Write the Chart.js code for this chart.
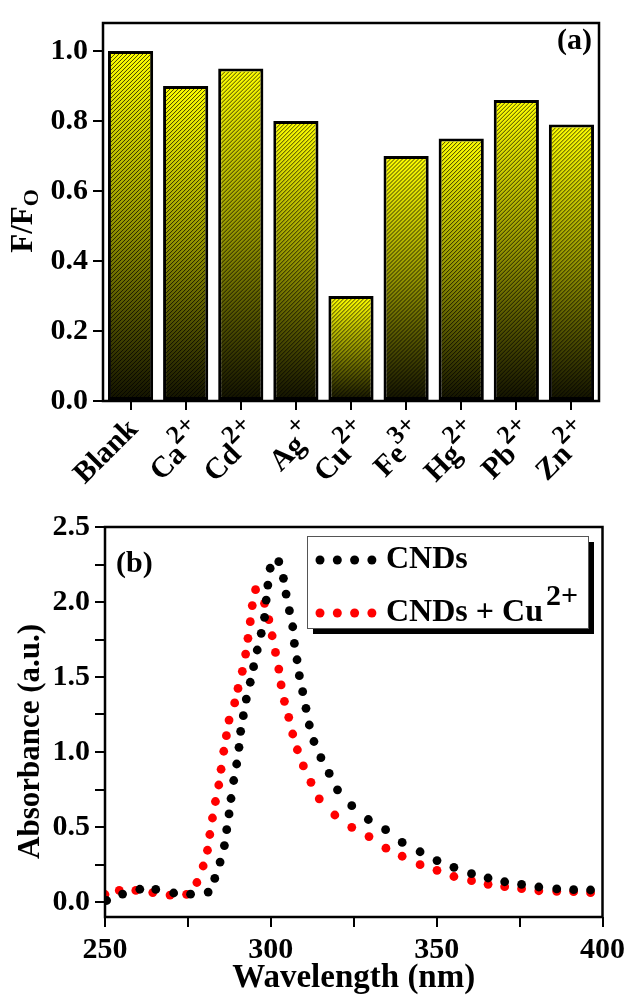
<!DOCTYPE html>
<html>
<head>
<meta charset="utf-8">
<script src="https://cdn.jsdelivr.net/npm/chart.js@4.4.1/dist/chart.umd.min.js"></script>
<style>
  html, body { margin: 0; padding: 0; background: #fff; }
  #wrap { position: relative; width: 630px; height: 999px; overflow: hidden; }
  canvas { position: absolute; left: 0; }
  #barChart { top: 0; }
  #absChart { top: 490px; }
</style>
</head>
<body>
<div id="wrap">
  <canvas id="barChart" width="630" height="505"></canvas>
  <canvas id="absChart" width="630" height="509"></canvas>
</div>
<script>
// (a) quenching ratio per ion
const ions = ["Blank", "Ca", "Cd", "Ag", "Cu", "Fe", "Hg", "Pb", "Zn"];
const ionCharges = ["", "2+", "2+", "+", "2+", "3+", "2+", "2+", "2+"];
const ratioValues = [1.0, 0.9, 0.95, 0.8, 0.3, 0.7, 0.75, 0.86, 0.79];
const ratioTicks = [0, 0.2, 0.4, 0.6, 0.8, 1.0];

// (b) absorbance spectra
const cndWavelength = [250.5, 255.3, 260.5, 265.3, 270.7, 275.8, 281.1, 283.1, 284.7, 286.0,
  286.7, 287.4, 288.0, 288.8, 289.7, 290.4, 290.9, 291.7, 292.6, 293.8, 294.8, 295.9, 297.1,
  298.1, 298.6, 299.1, 299.8, 302.4, 303.8, 304.6, 305.6, 306.6, 307.1, 307.9, 308.6, 309.6,
  310.6, 311.6, 313.0, 315.1, 317.6, 320.1, 324.4, 329.4, 334.6, 339.6, 345.0, 350.1, 355.2,
  360.5, 365.5, 370.5, 375.6, 380.8, 386.2, 391.3, 396.4];
const cndAbsorbance = [0.01, 0.053, 0.085, 0.084, 0.06, 0.052, 0.066, 0.157, 0.266, 0.376,
  0.482, 0.587, 0.69, 0.81, 0.92, 1.031, 1.138, 1.242, 1.353, 1.465, 1.569, 1.68, 1.791,
  1.898, 2.013, 2.113, 2.225, 2.269, 2.158, 2.053, 1.942, 1.835, 1.724, 1.615, 1.509, 1.402,
  1.291, 1.18, 1.07, 0.962, 0.857, 0.748, 0.642, 0.55, 0.482, 0.397, 0.335, 0.276, 0.231,
  0.189, 0.16, 0.135, 0.117, 0.1, 0.087, 0.082, 0.08];
const cuWavelength = [250.0, 254.3, 259.3, 264.4, 269.6, 274.6, 277.7, 279.6, 280.9, 281.6,
  282.4, 283.3, 284.3, 285.0, 285.8, 286.6, 287.4, 289.1, 290.1, 291.4, 292.4, 293.1, 293.8,
  294.4, 295.4, 298.1, 299.4, 300.4, 301.4, 302.4, 303.1, 304.1, 305.4, 306.6, 308.0, 309.8,
  312.1, 314.6, 319.3, 324.4, 329.6, 334.7, 339.6, 345.0, 350.1, 355.2, 360.5, 365.5, 370.5,
  375.6, 380.8, 386.2, 391.3, 396.4];
const cuAbsorbance = [0.05, 0.077, 0.077, 0.063, 0.046, 0.051, 0.13, 0.24, 0.345, 0.45,
  0.56, 0.67, 0.78, 0.885, 1.005, 1.109, 1.213, 1.327, 1.424, 1.538, 1.653, 1.758, 1.869,
  1.976, 2.082, 1.991, 1.882, 1.775, 1.664, 1.553, 1.447, 1.338, 1.231, 1.12, 1.015, 0.907,
  0.798, 0.688, 0.58, 0.498, 0.436, 0.359, 0.305, 0.249, 0.211, 0.17, 0.142, 0.118, 0.102,
  0.089, 0.075, 0.071, 0.069, 0.062];
const wavelengthTicks = [250, 275, 300, 325, 350, 375, 400];
const absorbanceTicks = [0, 0.25, 0.5, 0.75, 1.0, 1.25, 1.5, 1.75, 2.0, 2.25, 2.5];

const SERIF = "'Liberation Serif', 'Times New Roman', serif";
Chart.defaults.font.family = SERIF;
Chart.defaults.font.weight = "bold";
Chart.defaults.color = "#000";

const framePlugin = {
  id: "frame",
  afterDraw(chart) {
    const { ctx, chartArea: a } = chart;
    ctx.save();
    ctx.strokeStyle = "#000";
    ctx.lineWidth = 2.5;
    ctx.strokeRect(a.left, a.top, a.right - a.left, a.bottom - a.top);
    ctx.restore();
  },
};

const hatchPlugin = {
  id: "hatch",
  afterDatasetsDraw(chart) {
    const ctx = chart.ctx;
    ctx.save();
    ctx.strokeStyle = "rgba(0,0,0,0.72)";
    ctx.lineWidth = 1;
    chart.getDatasetMeta(0).data.forEach((bar) => {
      const { x, y, base, width } = bar.getProps(["x", "y", "base", "width"], true);
      const l = x - width / 2 + 3, r = x + width / 2 - 3;
      const t = y + 3, b = base - 1;
      const h = b - t;
      ctx.save();
      ctx.beginPath();
      ctx.rect(l, t, r - l, h);
      ctx.clip();
      ctx.beginPath();
      for (let s = l - h; s < r; s += 4) {
        ctx.moveTo(s, b);
        ctx.lineTo(s + h, t);
      }
      ctx.stroke();
      ctx.restore();
    });
    ctx.restore();
  },
};

const ionLabelPlugin = {
  id: "ionLabels",
  afterDraw(chart) {
    const { ctx } = chart;
    const xs = chart.scales.x;
    const y0 = chart.chartArea.bottom + 24;
    ctx.save();
    ctx.fillStyle = "#000";
    ctx.textBaseline = "middle";
    ions.forEach((name, i) => {
      const x = xs.getPixelForTick(i);
      ctx.save();
      ctx.translate(x + 3, y0);
      ctx.rotate(-Math.PI / 4);
      let end = 0, drop = 0;
      if (ionCharges[i]) {
        ctx.font = "bold 26px " + SERIF;
        ctx.textAlign = "right";
        ctx.fillText(ionCharges[i], 5, -1);
        end = 5 - ctx.measureText(ionCharges[i]).width;
        drop = 13;
      }
      ctx.font = "bold 30px " + SERIF;
      ctx.textAlign = "right";
      ctx.fillText(name, end, drop);
      ctx.restore();
    });
    // y title F/F_O
    ctx.save();
    ctx.translate(24, 221);
    ctx.rotate(-Math.PI / 2);
    ctx.textAlign = "left";
    ctx.font = "bold 31px " + SERIF;
    const w1 = ctx.measureText("F/F").width;
    ctx.font = "bold 22px " + SERIF;
    const w2 = ctx.measureText("O").width;
    const sx = -(w1 + w2) / 2;
    ctx.font = "bold 31px " + SERIF;
    ctx.fillText("F/F", sx, 0);
    ctx.font = "bold 22px " + SERIF;
    ctx.fillText("O", sx + w1, 8);
    ctx.restore();
    // panel tag
    ctx.font = "bold 30px " + SERIF;
    ctx.textAlign = "right";
    ctx.fillText("(a)", 592, 41);
    ctx.restore();
  },
};

const legendBoxPlugin = {
  id: "legendBox",
  afterDraw(chart) {
    const ctx = chart.ctx;
    const bx = 307, by = 46, bw = 281, bh = 92;
    ctx.save();
    ctx.fillStyle = "#000";
    ctx.fillRect(bx + 6, by + 6, bw, bh);
    ctx.fillStyle = "#fff";
    ctx.fillRect(bx, by, bw, bh);
    ctx.strokeStyle = "#555";
    ctx.lineWidth = 1;
    ctx.strokeRect(bx + 0.5, by + 0.5, bw, bh);
    chart.data.datasets.forEach((ds, i) => {
      const ry = by + 24 + i * 53;
      ctx.fillStyle = ds.backgroundColor;
      for (let k = 0; k < 4; k++) {
        ctx.beginPath();
        ctx.arc(320 + k * 17.3, ry, 4.5, 0, Math.PI * 2);
        ctx.fill();
      }
      ctx.fillStyle = "#000";
      ctx.font = "bold 32px " + SERIF;
      ctx.textAlign = "left";
      ctx.textBaseline = "middle";
      ctx.fillText(ds.label, 386, ry);
      if (i === 1) {
        const w = ctx.measureText(ds.label).width;
        ctx.font = "bold 30px " + SERIF;
        ctx.fillText("2+", 386 + w + 3, ry - 16);
      }
    });
    ctx.fillStyle = "#000";
    ctx.font = "bold 30px " + SERIF;
    ctx.textAlign = "left";
    ctx.textBaseline = "middle";
    ctx.fillText("(b)", 116, 74);
    ctx.restore();
  },
};

function barGradient(context) {
  const chart = context.chart;
  if (!chart.chartArea) return "#ffff00";
  const ys = chart.scales.y;
  const top = ys.getPixelForValue(context.raw);
  const bottom = ys.getPixelForValue(0);
  const g = chart.ctx.createLinearGradient(0, top, 0, bottom);
  g.addColorStop(0, "#ffff00");
  g.addColorStop(0.5, "#939300");
  g.addColorStop(1, "#121200");
  return g;
}

new Chart(document.getElementById("barChart"), {
  type: "bar",
  data: {
    labels: ions,
    datasets: [{
      data: ratioValues,
      backgroundColor: barGradient,
      borderColor: "#000",
      borderWidth: 3,
      borderSkipped: false,
      barPercentage: 0.82,
      categoryPercentage: 1,
    }],
  },
  options: {
    responsive: false,
    devicePixelRatio: 1,
    animation: false,
    layout: { padding: { top: 13, right: 31, left: 0, bottom: 0 } },
    plugins: { legend: { display: false }, tooltip: { enabled: false } },
    scales: {
      x: {
        offset: true,
        grid: { offset: false, drawOnChartArea: false, drawTicks: true, tickLength: 9, color: "#000", lineWidth: 2 },
        border: { display: false },
        ticks: { display: false },
        afterFit: (s) => { s.height = 104; },
      },
      y: {
        min: 0,
        max: 1.08,
        afterBuildTicks: (s) => { s.ticks = ratioTicks.map((v) => ({ value: v })); },
        grid: { drawOnChartArea: false, drawTicks: true, tickLength: 10, color: "#000", lineWidth: 2 },
        border: { display: false },
        ticks: { font: { size: 30, weight: "bold" }, padding: 5, callback: (v) => v.toFixed(1) },
        afterFit: (s) => { s.width = 103; },
      },
    },
  },
  plugins: [hatchPlugin, framePlugin, ionLabelPlugin],
});

new Chart(document.getElementById("absChart"), {
  type: "scatter",
  data: {
    datasets: [
      {
        label: "CNDs",
        data: cndWavelength.map((x, i) => ({ x, y: cndAbsorbance[i] })),
        backgroundColor: "#000000",
        borderWidth: 0,
        pointRadius: 4.4,
        clip: 0,
      },
      {
        label: "CNDs + Cu",
        data: cuWavelength.map((x, i) => ({ x, y: cuAbsorbance[i] })),
        backgroundColor: "#ff0000",
        borderWidth: 0,
        pointRadius: 4.4,
        clip: 0,
      },
    ],
  },
  options: {
    responsive: false,
    devicePixelRatio: 1,
    animation: false,
    layout: { padding: { top: 37, right: 26, left: 0, bottom: 0 } },
    plugins: { legend: { display: false }, tooltip: { enabled: false } },
    scales: {
      x: {
        type: "linear",
        min: 250,
        max: 400,
        afterBuildTicks: (s) => { s.ticks = wavelengthTicks.map((v) => ({ value: v })); },
        grid: { drawOnChartArea: false, drawTicks: true, tickLength: 10, color: "#000", lineWidth: 2 },
        border: { display: false },
        ticks: { font: { size: 30, weight: "bold" }, padding: 5, maxRotation: 0, callback: (v) => (v % 50 === 0 ? String(v) : "") },
        title: { display: true, text: "Wavelength (nm)", font: { size: 33, weight: "bold" }, padding: { top: 0, bottom: 1 } },
        afterFit: (s) => { s.height = 82; },
      },
      y: {
        min: -0.1,
        max: 2.5,
        afterBuildTicks: (s) => { s.ticks = absorbanceTicks.map((v) => ({ value: v })); },
        grid: { drawOnChartArea: false, drawTicks: true, tickLength: 10, color: "#000", lineWidth: 2 },
        border: { display: false },
        ticks: { font: { size: 30, weight: "bold" }, padding: 5, callback: (v) => (Math.abs(v * 2 - Math.round(v * 2)) < 1e-6 ? v.toFixed(1) : "") },
        title: { display: true, text: "Absorbance (a.u.)     ", font: { size: 31, weight: "bold" }, padding: { top: 12, bottom: 0 } },
        afterFit: (s) => { s.width = 105; },
      },
    },
  },
  plugins: [framePlugin, legendBoxPlugin],
});
</script>
</body>
</html>
